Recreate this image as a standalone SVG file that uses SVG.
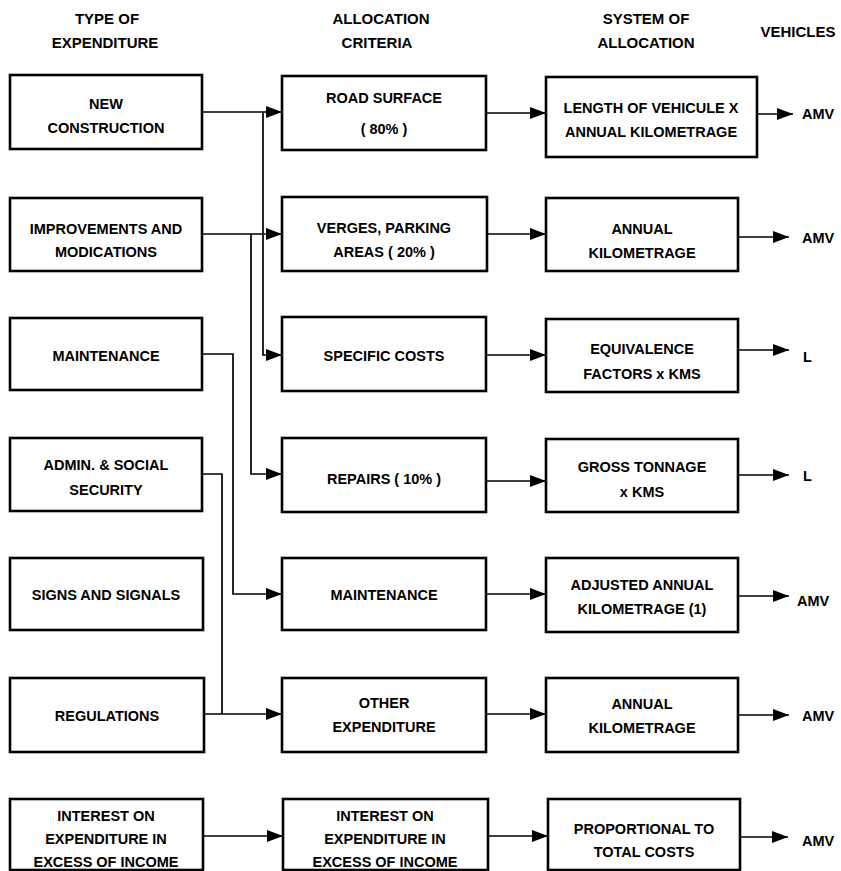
<svg xmlns="http://www.w3.org/2000/svg" width="841" height="871" viewBox="0 0 841 871">
<style>
.box{fill:#fff;stroke:#000;stroke-width:2.6}
.t{font-family:"Liberation Sans",Arial,Helvetica,sans-serif;font-weight:bold;font-size:14.5px;text-anchor:middle;fill:#000}
.h{font-family:"Liberation Sans",Arial,Helvetica,sans-serif;font-weight:bold;font-size:15px;text-anchor:middle;fill:#000}
.v{font-family:"Liberation Sans",Arial,Helvetica,sans-serif;font-weight:bold;font-size:14.5px;text-anchor:start;fill:#000}
.c{fill:none;stroke:#000;stroke-width:1.7}
.a{fill:none;stroke:#000;stroke-width:1.7;marker-end:url(#ah)}
</style>
<defs>
<marker id="ah" markerUnits="userSpaceOnUse" markerWidth="17" markerHeight="12" refX="16" refY="6" orient="auto">
<path d="M0,0 L16,6 L0,12 z" fill="#000"/>
</marker>
</defs>
<rect width="841" height="871" fill="#fff"/>
<g id="headers">
<text class="h" x="107" y="24">TYPE OF</text>
<text class="h" x="105" y="48">EXPENDITURE</text>
<text class="h" x="381" y="24">ALLOCATION</text>
<text class="h" x="377" y="48">CRITERIA</text>
<text class="h" x="646" y="24">SYSTEM OF</text>
<text class="h" x="646" y="48">ALLOCATION</text>
<text class="h" x="798" y="37">VEHICLES</text>
</g>
<g id="connectors">
<path class="a" d="M202,112 H282"/>
<path class="a" d="M263,112 V355 H282"/>
<path class="a" d="M202,234 H282"/>
<path class="a" d="M251,234 V474 H282"/>
<path class="a" d="M202,354 H233 V594 H282"/>
<path class="c" d="M202,474 H222 V714"/>
<path class="a" d="M204,714 H282"/>
<path class="a" d="M203,836 H283"/>
<path class="a" d="M486,113 H546"/>
<path class="a" d="M487,234 H546"/>
<path class="a" d="M486,355 H546"/>
<path class="a" d="M486,481 H546"/>
<path class="a" d="M486,594 H546"/>
<path class="a" d="M486,714 H546"/>
<path class="a" d="M488,836 H548"/>
<path class="a" d="M757,114 H793"/>
<path class="a" d="M738,237 H789"/>
<path class="a" d="M738,350 H789"/>
<path class="a" d="M738,475 H789"/>
<path class="a" d="M738,596 H789"/>
<path class="a" d="M738,715 H789"/>
<path class="a" d="M740,837 H788"/>
</g>
<g id="n-new-construction"><rect class="box" x="10" y="75" width="192" height="74"/><text class="t" x="106" y="109">NEW</text><text class="t" x="106" y="133">CONSTRUCTION</text></g>
<g id="n-improvements"><rect class="box" x="10" y="198" width="192" height="73"/><text class="t" x="106" y="234">IMPROVEMENTS AND</text><text class="t" x="106" y="257">MODICATIONS</text></g>
<g id="n-maintenance-l"><rect class="box" x="10" y="318" width="192" height="72"/><text class="t" x="106" y="361">MAINTENANCE</text></g>
<g id="n-admin"><rect class="box" x="10" y="438" width="192" height="73"/><text class="t" x="106" y="470">ADMIN. &amp; SOCIAL</text><text class="t" x="106" y="495">SECURITY</text></g>
<g id="n-signs"><rect class="box" x="10" y="558" width="193" height="72"/><text class="t" x="106" y="600">SIGNS AND SIGNALS</text></g>
<g id="n-regulations"><rect class="box" x="10" y="678" width="194" height="74"/><text class="t" x="107" y="721">REGULATIONS</text></g>
<g id="n-interest-l"><rect class="box" x="10" y="799" width="193" height="71"/><text class="t" x="106" y="821">INTEREST ON</text><text class="t" x="106" y="844">EXPENDITURE IN</text><text class="t" x="106" y="867">EXCESS OF INCOME</text></g>
<g id="n-road-surface"><rect class="box" x="282" y="76" width="204" height="74"/><text class="t" x="384" y="103">ROAD SURFACE</text><text class="t" x="384" y="134">( 80% )</text></g>
<g id="n-verges"><rect class="box" x="282" y="197" width="205" height="74"/><text class="t" x="384" y="233">VERGES, PARKING</text><text class="t" x="384" y="257">AREAS ( 20% )</text></g>
<g id="n-specific"><rect class="box" x="282" y="317" width="204" height="74"/><text class="t" x="384" y="361">SPECIFIC COSTS</text></g>
<g id="n-repairs"><rect class="box" x="282" y="438" width="204" height="74"/><text class="t" x="384" y="484">REPAIRS ( 10% )</text></g>
<g id="n-maintenance-m"><rect class="box" x="282" y="558" width="204" height="72"/><text class="t" x="384" y="600">MAINTENANCE</text></g>
<g id="n-other"><rect class="box" x="282" y="678" width="204" height="74"/><text class="t" x="384" y="708">OTHER</text><text class="t" x="384" y="732">EXPENDITURE</text></g>
<g id="n-interest-m"><rect class="box" x="283" y="799" width="205" height="71"/><text class="t" x="385" y="821">INTEREST ON</text><text class="t" x="385" y="844">EXPENDITURE IN</text><text class="t" x="385" y="867">EXCESS OF INCOME</text></g>
<g id="n-length"><rect class="box" x="546" y="77" width="211" height="80"/><text class="t" x="651" y="113">LENGTH OF VEHICULE X</text><text class="t" x="651" y="137">ANNUAL KILOMETRAGE</text></g>
<g id="n-annual-1"><rect class="box" x="546" y="198" width="192" height="73"/><text class="t" x="642" y="234">ANNUAL</text><text class="t" x="642" y="258">KILOMETRAGE</text></g>
<g id="n-equivalence"><rect class="box" x="546" y="319" width="192" height="73"/><text class="t" x="642" y="354">EQUIVALENCE</text><text class="t" x="642" y="379">FACTORS x KMS</text></g>
<g id="n-gross"><rect class="box" x="546" y="439" width="192" height="73"/><text class="t" x="642" y="472">GROSS TONNAGE</text><text class="t" x="642" y="497">x KMS</text></g>
<g id="n-adjusted"><rect class="box" x="546" y="558" width="192" height="74"/><text class="t" x="642" y="590">ADJUSTED ANNUAL</text><text class="t" x="642" y="614">KILOMETRAGE (1)</text></g>
<g id="n-annual-2"><rect class="box" x="546" y="678" width="192" height="74"/><text class="t" x="642" y="709">ANNUAL</text><text class="t" x="642" y="733">KILOMETRAGE</text></g>
<g id="n-proportional"><rect class="box" x="548" y="799" width="192" height="71"/><text class="t" x="644" y="834">PROPORTIONAL TO</text><text class="t" x="644" y="857">TOTAL COSTS</text></g>
<g id="vehicles">
<text class="v" x="802" y="119">AMV</text>
<text class="v" x="802" y="243">AMV</text>
<text class="v" x="803" y="362">L</text>
<text class="v" x="803" y="481">L</text>
<text class="v" x="797" y="606">AMV</text>
<text class="v" x="802" y="721">AMV</text>
<text class="v" x="802" y="846">AMV</text>
</g>
</svg>
